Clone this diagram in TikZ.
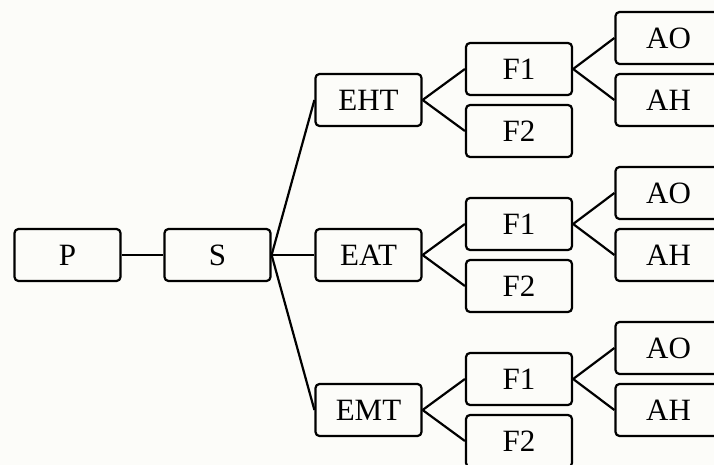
\documentclass[tikz,border=0pt]{standalone}
\usepackage{fontspec}
\setmainfont{Liberation Serif}
\definecolor{bgc}{rgb}{0.99,0.99,0.975}
\begin{document}
\begin{tikzpicture}[x=1pt,y=-1pt,
  box/.style={draw=black, line width=2.2pt, rounded corners=4pt, fill=bgc,
    minimum width=106pt, minimum height=52pt, inner sep=0pt,
    font=\fontsize{31}{32}\selectfont},
  link/.style={line width=2.2pt, draw=black}]
\clip (0,0) rectangle (714,465);
\fill[bgc] (0,0) rectangle (714,465);
\node[box] (P) at (67.5,255) {P};
\node[box] (S) at (217.5,255) {S};
% EHT group
\node[box] (E1) at (368.5,100) {EHT};
\node[box] (F11) at (519,69) {F1};
\node[box] (F12) at (519,131) {F2};
\node[box] (A11) at (668.5,38) {AO};
\node[box] (A12) at (668.5,100) {AH};
% EAT group
\node[box] (E2) at (368.5,255) {EAT};
\node[box] (F21) at (519,224) {F1};
\node[box] (F22) at (519,286) {F2};
\node[box] (A21) at (668.5,193) {AO};
\node[box] (A22) at (668.5,255) {AH};
% EMT group
\node[box] (E3) at (368.5,410) {EMT};
\node[box] (F31) at (519,379) {F1};
\node[box] (F32) at (519,441) {F2};
\node[box] (A31) at (668.5,348) {AO};
\node[box] (A32) at (668.5,410) {AH};
\draw[link] (P.east) -- (S.west);
\foreach \e in {E1,E2,E3} \draw[link] (S.east) -- (\e.west);
\foreach \g in {1,2,3} {
  \draw[link] (E\g.east) -- (F\g1.west);
  \draw[link] (E\g.east) -- (F\g2.west);
  \draw[link] (F\g1.east) -- (A\g1.west);
  \draw[link] (F\g1.east) -- (A\g2.west);
}
\end{tikzpicture}
\end{document}
